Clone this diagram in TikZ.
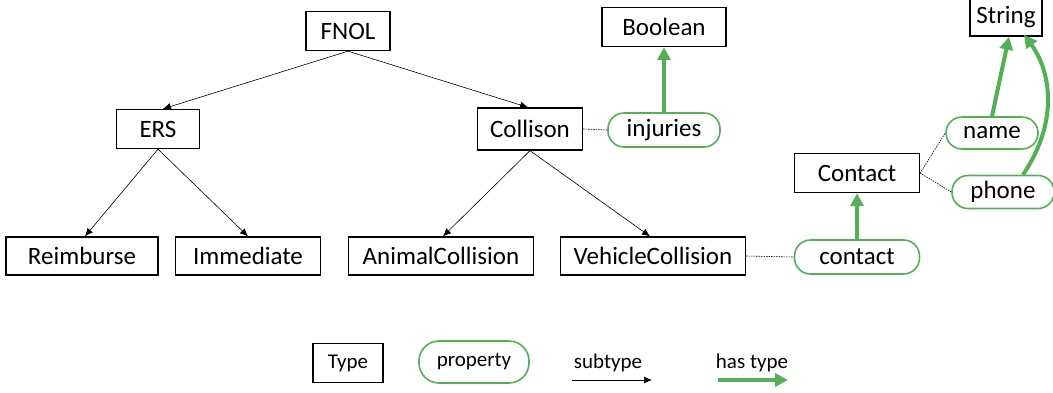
\documentclass[tikz,border=0pt]{standalone}
\usepackage{fontspec}
\setmainfont{Carlito}
\usetikzlibrary{arrows.meta}
\definecolor{propgreen}{RGB}{84,176,84}

\begin{document}
\begin{tikzpicture}[x=1pt,y=-1pt,
  typebox/.style={draw,line width=1.3pt,minimum height=39pt,inner sep=0pt,
    font=\fontsize{25}{29}\selectfont},
  propbox/.style={draw=propgreen,line width=1.6pt,rounded corners=16pt,
    minimum height=34pt,inner sep=0pt,font=\fontsize{25}{29}\selectfont},
  subarrow/.style={-{Latex[length=8pt,width=7pt]},line width=0.6pt},
  hasarrow/.style={-{Triangle[length=13pt,width=13pt]},line width=4pt,propgreen},
  attr/.style={line width=0.6pt,dash pattern=on 1.5pt off 1pt},
  legend/.style={font=\fontsize{21}{25}\selectfont}]
  \useasboundingbox (0,0) rectangle (1053,392);

  % types
  \node[typebox,minimum width=84pt]  (fnol)    at (348,31)  {FNOL};
  \node[typebox,minimum width=83pt]  (ers)     at (158,129) {ERS};
  \node[typebox,minimum width=105pt,minimum height=42pt] (coll) at (530,129) {Collison};
  \node[typebox,minimum width=152pt,minimum height=38pt] (reim) at (82,256)  {Reimburse};
  \node[typebox,minimum width=145pt,minimum height=38pt] (imm)  at (248,256) {Immediate};
  \node[typebox,minimum width=185pt,minimum height=38pt] (animal)  at (441,256) {AnimalCollision};
  \node[typebox,minimum width=185pt,minimum height=38pt] (vehicle) at (653,256) {VehicleCollision};
  \node[typebox,minimum width=124pt] (bool)    at (664,27)  {Boolean};
  \node[typebox,minimum width=72pt,minimum height=38pt] (str) at (1006,17) {String};
  \node[typebox,minimum width=125pt] (cont)    at (857,173) {Contact};

  % properties
  \node[propbox,minimum width=112pt] (inj)   at (664,130) {injuries};
  \node[propbox,minimum width=92pt,minimum height=32pt] (name)  at (992,133) {name};
  \node[propbox,minimum width=102pt,minimum height=33pt] (phone) at (1003,192) {phone};
  \node[propbox,minimum width=125pt] (contp) at (857,257) {contact};

  % subtypes
  \draw[subarrow] (fnol.south) -- ([xshift=5pt]ers.north);
  \draw[subarrow] (fnol.south) -- ([xshift=-2pt]coll.north);
  \draw[subarrow] (ers.south) -- ([xshift=3pt]reim.north);
  \draw[subarrow] (ers.south) -- (imm.north);
  \draw[subarrow] (coll.south) -- ([xshift=2pt]animal.north);
  \draw[subarrow] (coll.south) -- ([xshift=-3pt]vehicle.north);

  % attributes
  \draw[attr] (coll.east) -- (inj.west);
  \draw[attr] (vehicle.east) -- (contp.west);
  \draw[attr] (cont.east) -- (name.west);
  \draw[attr] (cont.east) -- (phone.west);

  % has type
  \draw[hasarrow] (inj.north) -- (bool.south);
  \draw[hasarrow] (contp.north) -- (cont.south);
  \draw[hasarrow] (name.north) -- ([xshift=3pt]str.south);
  \draw[hasarrow] ([xshift=20pt]phone.north) .. controls (1060,120) and (1050,70) .. ([xshift=18pt,yshift=2pt]str.south);

  % legend
  \node[typebox,legend,minimum width=70pt] (ltype) at (348,363) {Type};
  \node[propbox,legend,minimum width=110pt,minimum height=42pt,rounded corners=20pt] (lprop) at (474,362) {property};
  \node[legend] (lsub) at (608,363) {subtype};
  \node[legend] (lhas) at (752,363) {has type};
  \coordinate (subS) at (572,380);
  \coordinate (subE) at (652,380);
  \coordinate (hasS) at (718,380);
  \coordinate (hasE) at (788,380);
  \draw[subarrow] (subS) -- (subE);
  \draw[hasarrow] (hasS) -- (hasE);
\end{tikzpicture}
\end{document}
